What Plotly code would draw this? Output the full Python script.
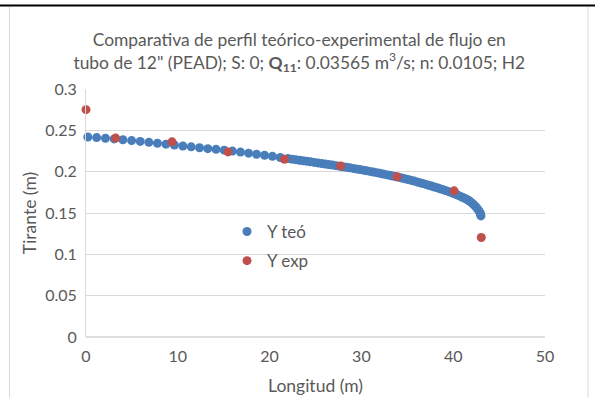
import plotly.graph_objects as go

# ---- data ----
x_teo = [0.20, 1.16, 2.12, 3.07, 4.02, 4.97, 5.91, 6.85, 7.78, 8.71, 9.63, 10.55,
         11.46, 12.37, 13.27, 14.17, 15.06, 15.95, 16.83, 17.71, 18.58, 19.45, 20.31,
         21.16, 22.00, 22.42, 22.83, 23.24, 23.65, 24.06, 24.46, 24.86, 25.26, 25.66,
         26.05, 26.44, 26.83, 27.22, 27.60, 27.98, 28.36, 28.74, 29.11, 29.48, 29.85,
         30.22, 30.58, 30.94, 31.30, 31.66, 32.01, 32.36, 32.71, 33.06, 33.40, 33.74,
         34.08, 34.42, 34.75, 35.08, 35.41, 35.74, 36.06, 36.38, 36.70, 37.02, 37.33,
         37.64, 37.95, 38.26, 38.56, 38.86, 39.15, 39.44, 39.72, 40.00, 40.27, 40.54,
         40.80, 41.05, 41.30, 41.54, 41.77, 41.99, 42.20, 42.40, 42.58, 42.75, 42.90,
         42.97, 43.00, 43.02]
y_teo = [0.2420, 0.2412, 0.2404, 0.2396, 0.2386, 0.2376, 0.2366, 0.2355, 0.2344,
         0.2333, 0.2322, 0.2311, 0.2300, 0.2289, 0.2278, 0.2270, 0.2260, 0.2249,
         0.2237, 0.2224, 0.2211, 0.2198, 0.2185, 0.2172, 0.2158, 0.2151, 0.2145,
         0.2138, 0.2132, 0.2125, 0.2119, 0.2112, 0.2106, 0.2099, 0.2093, 0.2086,
         0.2080, 0.2073, 0.2067, 0.2060, 0.2053, 0.2046, 0.2039, 0.2032, 0.2025,
         0.2018, 0.2010, 0.2003, 0.1995, 0.1988, 0.1980, 0.1972, 0.1964, 0.1956,
         0.1948, 0.1940, 0.1931, 0.1922, 0.1913, 0.1904, 0.1895, 0.1886, 0.1876,
         0.1866, 0.1856, 0.1846, 0.1836, 0.1826, 0.1815, 0.1805, 0.1794, 0.1783,
         0.1772, 0.1761, 0.1750, 0.1739, 0.1727, 0.1714, 0.1701, 0.1688, 0.1675,
         0.1660, 0.1645, 0.1626, 0.1605, 0.1583, 0.1560, 0.1535, 0.1510, 0.1492,
         0.1478, 0.1465]

x_exp = [0.0, 3.23, 9.37, 15.47, 21.62, 27.74, 33.88, 40.10, 43.06]
y_exp = [0.275, 0.2406, 0.2361, 0.2239, 0.2150, 0.2070, 0.1937, 0.1768, 0.1203]

x_ticks = [0, 10, 20, 30, 40, 50]
y_ticks = [0, 0.05, 0.1, 0.15, 0.2, 0.25, 0.3]

title_text = ("Comparativa de perfil teórico-experimental de flujo en<br>"
              "tubo de 12\" (PEAD); S: 0; <b>Q<sub>11</sub></b>: 0.03565 m<sup>3</sup>/s; n: 0.0105; H2")

# ---- layout constants (pixels) ----
W, H = 595, 398
L, R, T, B = 86, 50, 89, 61
PW, PH = W - L - R, H - T - B


def px(xp):
    return (xp - L) / PW


def py(yp):
    return (H - B - yp) / PH


FONT = "Lato"
TXT = "#595959"
BLUE = "#4A7EBB"
RED = "#C0504D"

fig = go.Figure()
fig.add_trace(go.Scatter(x=x_teo, y=y_teo, mode="markers", name="Y teó",
                         legendgroup="a", cliponaxis=False, hoverinfo="skip",
                         marker=dict(color=BLUE, size=9, line=dict(width=0))))
fig.add_trace(go.Scatter(x=x_exp, y=y_exp, mode="markers", name="Y exp",
                         legendgroup="b", cliponaxis=False, hoverinfo="skip",
                         marker=dict(color=RED, size=9, line=dict(width=0))))

fig.update_layout(
    width=W, height=H,
    margin=dict(l=L, r=R, t=T, b=B, autoexpand=False),
    paper_bgcolor="white", plot_bgcolor="white",
    font=dict(family=FONT, size=16, color=TXT),
    hovermode=False,
    title=dict(text=title_text, x=0.503, xref="container", xanchor="center",
               y=1 - 46 / H, yref="container", yanchor="top",
               font=dict(family=FONT, size=17.4, color=TXT)),
    showlegend=True,
    legend=dict(x=px(227), y=py(214), xanchor="left", yanchor="top",
                bgcolor="rgba(0,0,0,0)", font=dict(family=FONT, size=17, color=TXT),
                tracegroupgap=4, itemwidth=30),
    xaxis=dict(range=[0, 50], tickvals=x_ticks, showgrid=False, zeroline=False,
               showline=False, ticks="", automargin=False, ticklabelstandoff=8,
               title=dict(text="Longitud (m)", font=dict(family=FONT, size=17.5, color=TXT),
                          standoff=15),
               tickfont=dict(family=FONT, size=16, color=TXT)),
    yaxis=dict(range=[0, 0.3], tickvals=y_ticks, showgrid=True, gridcolor="#D9D9D9",
               gridwidth=1, zeroline=False, showline=True, linecolor="#D9D9D9",
               linewidth=1, ticks="", ticklabelstandoff=5, automargin=False,
               title=dict(text="Tirante (m)", font=dict(family=FONT, size=17.5, color=TXT),
                          standoff=4),
               tickfont=dict(family=FONT, size=16, color=TXT)),
    shapes=[
        # x-axis baseline
        dict(type="line", xref="paper", yref="paper", x0=0, x1=1, y0=0, y1=0,
             line=dict(color="#BFBFBF", width=1), layer="above"),
        # chart border left/right
        dict(type="line", xref="paper", yref="paper", x0=px(9.5), x1=px(9.5),
             y0=py(7), y1=py(400), line=dict(color="#D9D9D9", width=1), layer="above"),
        dict(type="line", xref="paper", yref="paper", x0=px(588), x1=px(588),
             y0=py(7), y1=py(400), line=dict(color="#D9D9D9", width=1), layer="above"),
        # top black rule
        dict(type="line", xref="paper", yref="paper", x0=px(0), x1=px(595),
             y0=py(5.5), y1=py(5.5), line=dict(color="black", width=2), layer="above"),
    ],
)

fig.write_html("out.html", config={"displayModeBar": False, "staticPlot": True},
               post_script="document.body.style.margin='0px';document.body.style.overflow='hidden';")
